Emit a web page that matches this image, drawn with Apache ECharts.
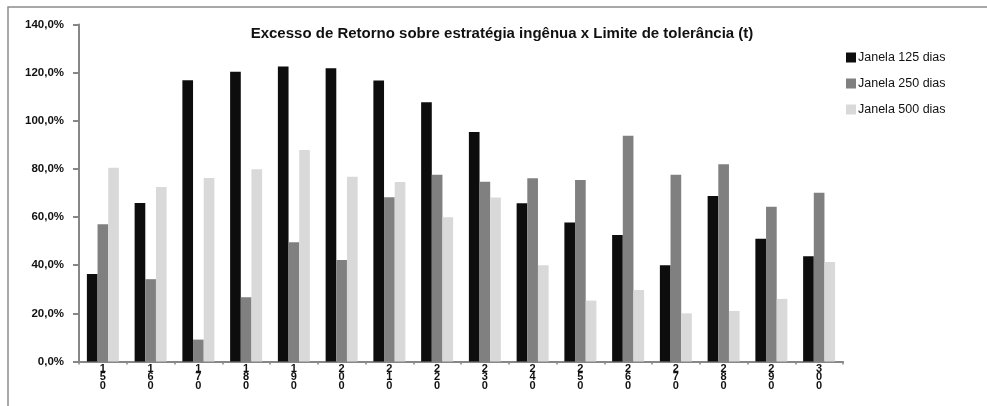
<!DOCTYPE html>
<html>
<head>
<meta charset="utf-8">
<script src="https://cdn.jsdelivr.net/npm/echarts@6/dist/echarts.min.js"></script>
<style>
  html, body { margin: 0; padding: 0; background: #fff; }
  #chart { width: 987px; height: 406px; }
</style>
</head>
<body>
<div id="chart"></div>
<script>
// Tolerance limits (t) on the category axis
const categories = ['150', '160', '170', '180', '190', '200', '210', '220',
                    '230', '240', '250', '260', '270', '280', '290', '300'];

// Excess return over the naive strategy, in percent
const janela125 = [36.4, 65.8, 116.8, 120.4, 122.6, 121.8, 116.7, 107.7,
                   95.3, 65.7, 57.7, 52.6, 40.0, 68.8, 51.0, 43.7];
const janela250 = [57.0, 34.2, 9.1, 26.7, 49.5, 42.2, 68.2, 77.6,
                   74.7, 76.1, 75.4, 93.8, 77.6, 81.9, 64.3, 70.1];
const janela500 = [80.5, 72.5, 76.2, 79.9, 87.9, 76.8, 74.6, 59.9,
                   68.1, 40.0, 25.3, 29.7, 20.0, 21.0, 26.0, 41.3];

const seriesNames = ['Janela 125 dias', 'Janela 250 dias', 'Janela 500 dias'];
const yTicks = { min: 0, max: 140, interval: 20 };

const chart = echarts.init(document.getElementById('chart'));
const axisGray = '#878787';
const fontFamily = '"Liberation Sans", Arial, sans-serif';

function fmtPct(v) {
  return v.toFixed(1).replace('.', ',') + '%';
}

function barSeries(name, data, color) {
  return {
    name: name,
    type: 'bar',
    data: data,
    barGap: '0%',
    barCategoryGap: '33%',
    itemStyle: { color: color },
    emphasis: { disabled: true }
  };
}

chart.setOption({
  animation: false,
  backgroundColor: '#fff',
  title: {
    text: 'Excesso de Retorno sobre estratégia ingênua x Limite de tolerância (t)',
    left: 497,
    textAlign: 'center',
    top: 21,
    textStyle: { fontFamily: fontFamily, fontSize: 15, fontWeight: 'bold', color: '#111' }
  },
  legend: {
    orient: 'vertical',
    left: 841,
    top: 46,
    itemWidth: 10,
    itemHeight: 10,
    itemGap: 13,
    icon: 'rect',
    data: seriesNames,
    textStyle: { fontFamily: fontFamily, fontSize: 12.5, color: '#111', padding: [0, 0, 0, -3] }
  },
  graphic: [{
    type: 'rect',
    shape: { x: 8, y: 7, width: 1000, height: 420 },
    style: { fill: 'none', stroke: '#8c8c8c', lineWidth: 1.5 },
    silent: true
  }],
  grid: { left: 79, right: 144, top: 24.5, bottom: 44.5, containLabel: false },
  xAxis: {
    type: 'category',
    data: categories,
    axisLine: { lineStyle: { color: axisGray, width: 2 } },
    axisTick: { show: true, length: 3, lineStyle: { color: axisGray, width: 1.5 } },
    axisLabel: {
      interval: 0,
      margin: 3,
      fontFamily: fontFamily,
      fontSize: 11,
      fontWeight: 'bold',
      color: '#111',
      lineHeight: 8.5,
      formatter: function (v) { return v.split('').join('\n'); }
    }
  },
  yAxis: {
    type: 'value',
    min: yTicks.min,
    max: yTicks.max,
    interval: yTicks.interval,
    splitLine: { show: false },
    axisLine: { show: true, lineStyle: { color: axisGray, width: 2 } },
    axisTick: { show: true, length: 6, lineStyle: { color: axisGray, width: 2 } },
    axisLabel: {
      margin: 15,
      fontFamily: fontFamily,
      fontSize: 11.5,
      fontWeight: 'bold',
      color: '#111',
      formatter: fmtPct
    }
  },
  series: [
    barSeries(seriesNames[0], janela125, '#0d0d0d'),
    barSeries(seriesNames[1], janela250, '#808080'),
    barSeries(seriesNames[2], janela500, '#d9d9d9')
  ]
});
</script>
</body>
</html>
